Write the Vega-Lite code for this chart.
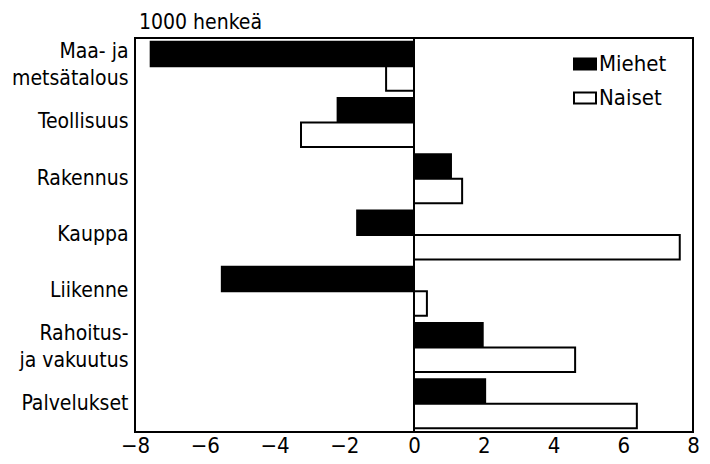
{
  "$schema": "https://vega.github.io/schema/vega-lite/v6.json",
  "width": 558,
  "height": 394,
  "autosize": {"type": "none"},
  "padding": {"left": 135, "top": 38, "right": 17, "bottom": 32},
  "background": "white",
  "title": {
    "text": "1000 henkeä",
    "anchor": "start",
    "frame": "group",
    "dx": 4,
    "dy": 23,
    "offset": 10,
    "fontSize": 21,
    "fontWeight": "normal",
    "color": "black",
    "baseline": "alphabetic",
    "font": "DejaVu Sans Condensed, sans-serif"
  },
  "config": {
    "view": {"stroke": "black", "strokeWidth": 2},
    "font": "DejaVu Sans Condensed, sans-serif"
  },
  "data": {
    "values": [
      {"ala": "Maa- ja metsätalous", "sukupuoli": "Miehet", "muutos": -7.55},
      {"ala": "Maa- ja metsätalous", "sukupuoli": "Naiset", "muutos": -0.8},
      {"ala": "Teollisuus", "sukupuoli": "Miehet", "muutos": -2.19},
      {"ala": "Teollisuus", "sukupuoli": "Naiset", "muutos": -3.24},
      {"ala": "Rakennus", "sukupuoli": "Miehet", "muutos": 1.06},
      {"ala": "Rakennus", "sukupuoli": "Naiset", "muutos": 1.38},
      {"ala": "Kauppa", "sukupuoli": "Miehet", "muutos": -1.63},
      {"ala": "Kauppa", "sukupuoli": "Naiset", "muutos": 7.62},
      {"ala": "Liikenne", "sukupuoli": "Miehet", "muutos": -5.51},
      {"ala": "Liikenne", "sukupuoli": "Naiset", "muutos": 0.37},
      {"ala": "Rahoitus- ja vakuutus", "sukupuoli": "Miehet", "muutos": 1.97},
      {"ala": "Rahoitus- ja vakuutus", "sukupuoli": "Naiset", "muutos": 4.62},
      {"ala": "Palvelukset", "sukupuoli": "Miehet", "muutos": 2.04},
      {"ala": "Palvelukset", "sukupuoli": "Naiset", "muutos": 6.39}
    ]
  },
  "layer": [
    {
      "mark": {"type": "bar", "stroke": "black", "strokeWidth": 2},
      "encoding": {
        "y": {
          "field": "ala",
          "type": "nominal",
          "sort": ["Maa- ja metsätalous", "Teollisuus", "Rakennus", "Kauppa", "Liikenne", "Rahoitus- ja vakuutus", "Palvelukset"],
          "scale": {"paddingInner": 0.13, "paddingOuter": 0.065},
          "axis": {
            "title": null,
            "ticks": false,
            "domain": false,
            "labelFontSize": 21,
            "labelPadding": 7,
            "labelColor": "black",
            "labelLineHeight": 27,
            "labelLimit": 200,
            "labelOffset": {
              "condition": {"test": "datum.value == 'Maa- ja metsätalous' || datum.value == 'Rahoitus- ja vakuutus'", "value": -14},
              "value": 0
            },
            "labelExpr": "datum.value == 'Maa- ja metsätalous' ? ['Maa- ja', 'metsätalous'] : datum.value == 'Rahoitus- ja vakuutus' ? ['Rahoitus-', 'ja vakuutus'] : datum.value"
          }
        },
        "yOffset": {
          "field": "sukupuoli",
          "type": "nominal",
          "sort": ["Miehet", "Naiset"],
          "scale": {"paddingInner": 0, "paddingOuter": 0}
        },
        "x": {
          "field": "muutos",
          "type": "quantitative",
          "scale": {"domain": [-8, 8], "nice": false, "zero": false},
          "axis": {
            "title": null,
            "ticks": false,
            "domain": false,
            "grid": false,
            "values": [-8, -6, -4, -2, 0, 2, 4, 6, 8],
            "labelFontSize": 22,
            "labelPadding": 3,
            "labelColor": "black",
            "labelFlush": false
          }
        },
        "fill": {
          "field": "sukupuoli",
          "type": "nominal",
          "scale": {"domain": ["Miehet", "Naiset"], "range": ["black", "white"]},
          "legend": {
            "title": null,
            "orient": "none",
            "legendX": 438,
            "legendY": 14,
            "padding": 0,
            "symbolType": "M-1,-0.5 H1 V0.5 H-1 Z",
            "symbolSize": 484,
            "symbolStrokeColor": "black",
            "symbolStrokeWidth": 2,
            "labelFontSize": 22,
            "labelColor": "black",
            "labelOffset": 2,
            "rowPadding": 11,
            "labelLimit": 200
          }
        }
      }
    },
    {
      "mark": {"type": "rule", "color": "black", "strokeWidth": 2},
      "encoding": {"x": {"datum": 0}}
    }
  ]
}
